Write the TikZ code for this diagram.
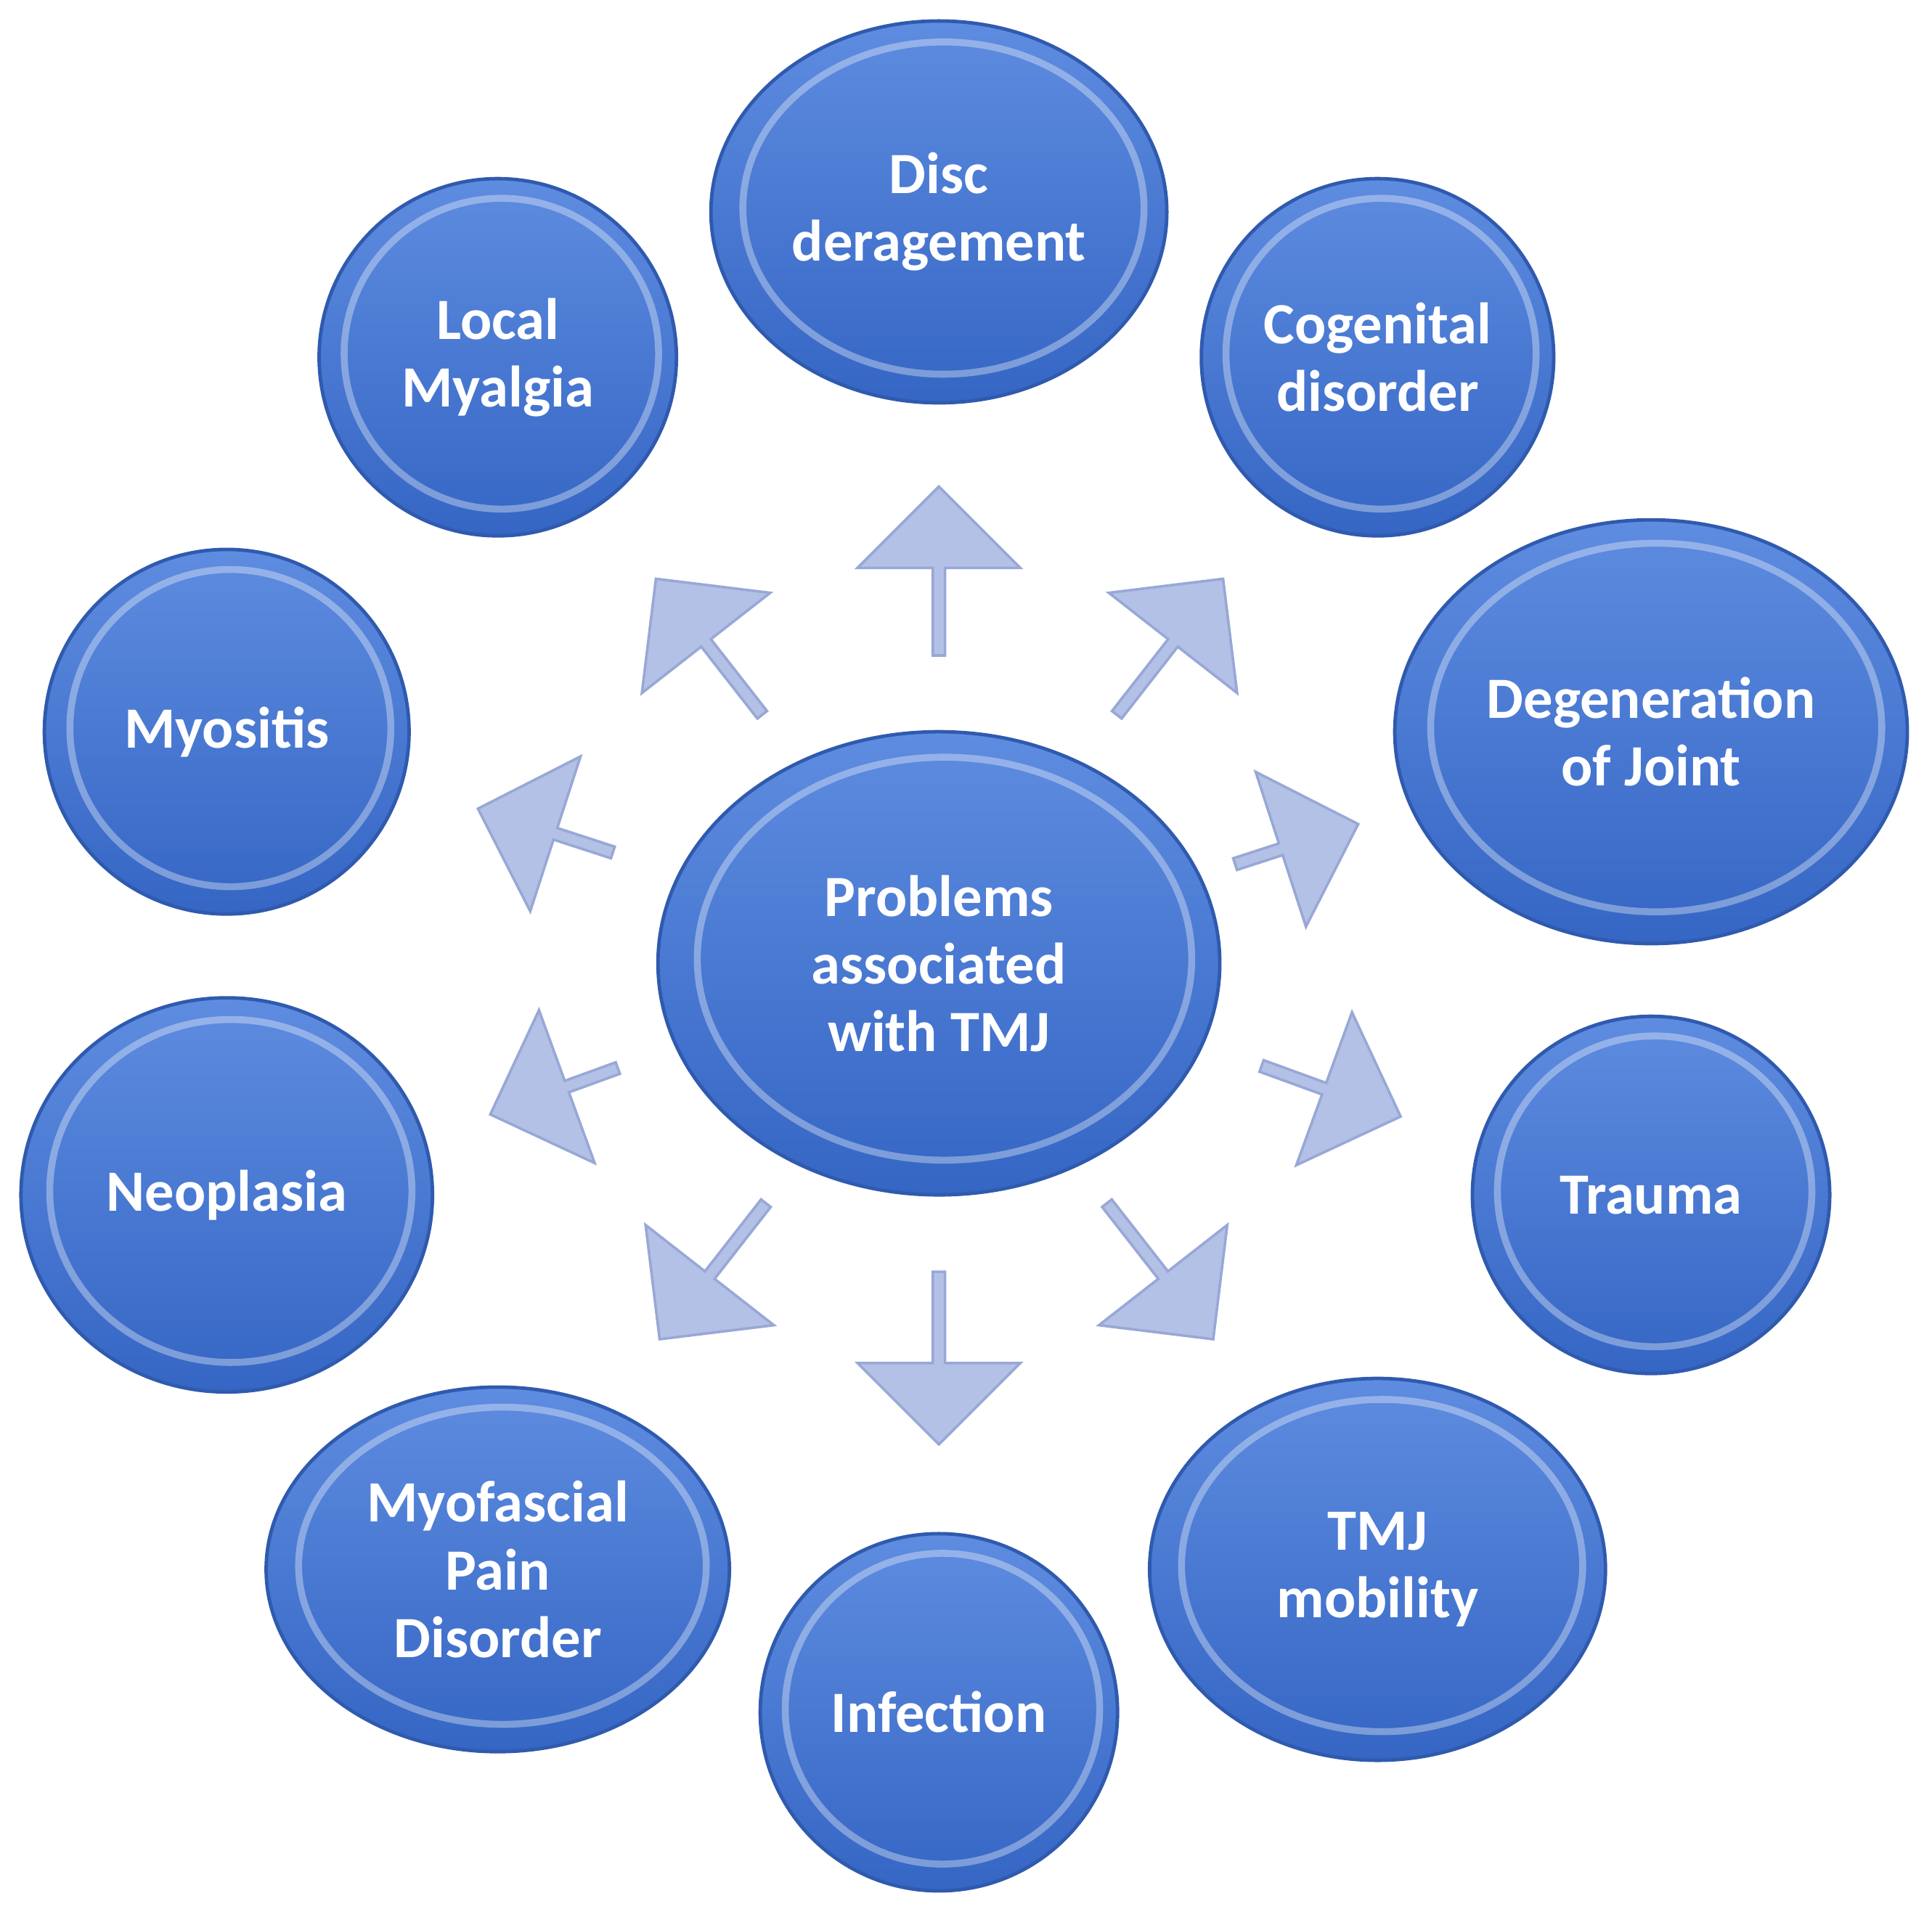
\documentclass[tikz,border=0pt]{standalone}
\usepackage{fontspec}
\setmainfont{Carlito}
\usetikzlibrary{shapes.arrows}
\definecolor{bluetop}{HTML}{5E8CE0}
\definecolor{bluebot}{HTML}{3566C4}
\definecolor{blueedge}{HTML}{2F5AAE}
\definecolor{arrfill}{HTML}{B4C1E6}
\definecolor{arredge}{HTML}{98A8D6}
\tikzset{
  arr/.style={single arrow, draw=arredge, fill=arrfill, line width=0.6pt,
    minimum height=#1, minimum width=3.3cm*0.4, single arrow head extend=0.13cm,
    inner sep=0pt, text width=0.95cm},
  lbl/.style={text=white, font=\bfseries\fontsize{13.5}{15.6}\selectfont, align=center},
}
\newcommand{\bub}[5]{% name, x, y, rx, ry
  \shade[top color=bluetop, bottom color=bluebot, draw=blueedge, line width=0.8pt] (#2,#3) ellipse [x radius=#4, y radius=#5];
  \draw[white, opacity=0.35, line width=1.6pt] (#2+0.02*#4,#3-0.02*#5) ellipse [x radius=0.88*#4, y radius=0.87*#5];
  \coordinate (#1) at (#2,#3);
}
\begin{document}
\begin{tikzpicture}[x=0.01cm,y=-0.01cm]
\useasboundingbox (0,0) rectangle (1568,1556);
\bub{c}{762}{782}{228}{188}
\bub{disc}{762}{172}{185}{155}
\bub{lm}{404}{290}{145}{145}
\bub{cog}{1118}{290}{143}{145}
\bub{deg}{1340}{594}{208}{172}
\bub{myo}{184}{594}{148}{148}
\bub{tra}{1340}{970}{145}{145}
\bub{neo}{184}{970}{167}{160}
\bub{tmj}{1118}{1274}{185}{155}
\bub{mpd}{404}{1274}{188}{148}
\bub{inf}{762}{1390}{145}{145}
\node[lbl] (tc) at (c) {Problems\\associated\\with TMJ};
\node[lbl] (tdisc) at (disc) {Disc\\deragement};
\node[lbl] (tlm) at (lm) {Local\\Myalgia};
\node[lbl] (tcog) at (cog) {Cogenital\\disorder};
\node[lbl] (tdeg) at (deg) {Degeneration\\of Joint};
\node[lbl] (tmyo) at (myo) {Myositis};
\node[lbl] (ttra) at (tra) {Trauma};
\node[lbl] (tneo) at (neo) {Neoplasia};
\node[lbl] (ttmj) at (tmj) {TMJ\\mobility};
\node[lbl] (tmpd) at (mpd) {Myofascial\\Pain\\Disorder};
\node[lbl] (tinf) at (inf) {Infection};
\node[arr=1.37cm, rotate=90] (a1) at (762,466) {};
\node[arr=1.40cm, rotate=128] (a2) at (577,527) {};
\node[arr=1.40cm, rotate=52] (a3) at (948,527) {};
\node[arr=1.05cm, rotate=18] (a4) at (1050,686) {};
\node[arr=1.15cm, rotate=162] (a5) at (445,675) {};
\node[arr=1.20cm, rotate=-20] (a6) at (1078,885) {};
\node[arr=1.10cm, rotate=200] (a7) at (452,885) {};
\node[arr=1.40cm, rotate=232] (a8) at (580,1030) {};
\node[arr=1.40cm, rotate=-90] (a9) at (762,1100) {};
\node[arr=1.40cm, rotate=-52] (a10) at (940,1030) {};
\end{tikzpicture}
\end{document}
